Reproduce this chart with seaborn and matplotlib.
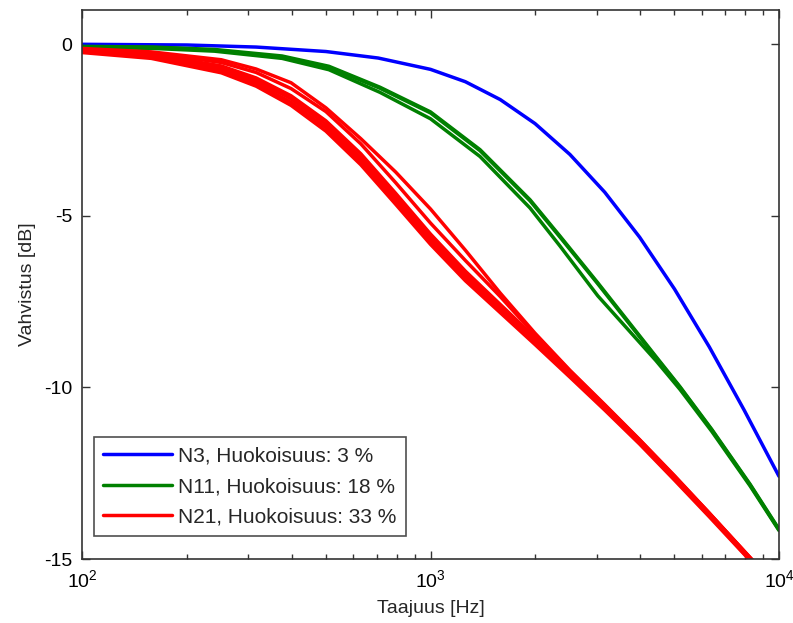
import matplotlib
matplotlib.use("Agg")
import matplotlib.pyplot as plt
import numpy as np
import pandas as pd
import seaborn as sns
from matplotlib.lines import Line2D
from matplotlib.ticker import LogLocator, NullFormatter

# ---- data ----
labels = ["N3, Huokoisuus: 3 %", "N11, Huokoisuus: 18 %", "N21, Huokoisuus: 33 %"]
colors = ["#0000ff", "#008000", "#ff0000"]

blue_f = [100, 200, 316, 501, 708, 1000, 1259, 1585, 1995, 2512, 3162, 3981, 5012, 6310, 7943, 10000]
blue_db = [0.0, -0.02, -0.08, -0.21, -0.40, -0.73, -1.09, -1.61, -2.31, -3.21, -4.31, -5.62, -7.13, -8.82, -10.66, -12.59]

green_f = [100, 160, 240, 375, 511, 716, 1000, 1387, 1930, 2353, 3020, 4436, 5200, 6412, 8260, 10000]
green_u1 = [-0.06, -0.08, -0.15, -0.34, -0.64, -1.25, -1.97, -3.07, -4.53, -5.59, -6.95, -9.10, -9.98, -11.22, -12.82, -14.13]
green_u2 = [-0.07, -0.09, -0.17, -0.37, -0.67, -1.28, -2.00, -3.10, -4.56, -5.62, -6.98, -9.13, -10.00, -11.24, -12.84, -14.15]
green_l = [-0.09, -0.12, -0.20, -0.41, -0.74, -1.40, -2.17, -3.27, -4.77, -5.88, -7.33, -9.22, -10.06, -11.28, -12.87, -14.17]

red_f = [100, 158, 251, 316, 398, 501, 631, 794, 1000, 1259, 1585, 1995, 2512, 3162, 3981, 5012, 6310, 7943, 10000]
red_up = [-0.12, -0.22, -0.45, -0.72, -1.12, -1.85, -2.75, -3.72, -4.80, -6.00, -7.25, -8.42, -9.50, -10.50, -11.52, -12.57, -13.66, -14.77, -15.88]
red_e = [-0.15, -0.25, -0.53, -0.82, -1.29, -1.96, -2.90, -4.03, -5.21, -6.30, -7.35, -8.47, -9.52, -10.52, -11.53, -12.59, -13.67, -14.77, -15.87]
red_a = [-0.16, -0.29, -0.63, -0.98, -1.50, -2.23, -3.19, -4.34, -5.53, -6.61, -7.58, -8.55, -9.54, -10.54, -11.55, -12.60, -13.67, -14.78, -15.88]
red_b = [-0.19, -0.33, -0.70, -1.06, -1.59, -2.33, -3.30, -4.45, -5.63, -6.70, -7.66, -8.62, -9.60, -10.58, -11.58, -12.63, -13.70, -14.80, -15.90]
red_c = [-0.21, -0.37, -0.76, -1.14, -1.69, -2.43, -3.40, -4.55, -5.73, -6.80, -7.74, -8.68, -9.64, -10.62, -11.62, -12.67, -13.74, -14.84, -15.94]
red_d = [-0.24, -0.41, -0.83, -1.22, -1.78, -2.53, -3.51, -4.66, -5.83, -6.89, -7.82, -8.75, -9.70, -10.66, -11.65, -12.70, -13.77, -14.86, -15.96]

y_ticks = [0, -5, -10, -15]
x_label = "Taajuus [Hz]"
y_label = "Vahvistus [dB]"

# ---- tidy table ----
series = [
    ("b1", labels[0], blue_f, blue_db),
    ("g1", labels[1], green_f, green_u1),
    ("g2", labels[1], green_f, green_u2),
    ("g3", labels[1], green_f, green_l),
    ("r1", labels[2], red_f, red_up),
    ("r2", labels[2], red_f, red_e),
    ("r3", labels[2], red_f, red_a),
    ("r4", labels[2], red_f, red_b),
    ("r5", labels[2], red_f, red_c),
    ("r6", labels[2], red_f, red_d),
]
rows = []
for uid, grp, fs, ds in series:
    for f, d in zip(fs, ds):
        rows.append({"line": uid, "group": grp, "f": f, "db": d})
df = pd.DataFrame(rows)

sns.set_theme(style="white")
plt.rcParams["font.family"] = ["Liberation Sans", "DejaVu Sans"]
plt.rcParams["mathtext.default"] = "regular"
FS = 14

fig = plt.figure(figsize=(7.93, 6.23), dpi=100)
ax = fig.add_axes([82 / 793, 1 - 559 / 623, 697 / 793, 549 / 623])

sns.lineplot(data=df, x="f", y="db", hue="group", hue_order=labels,
             units="line", estimator=None, sort=False,
             palette=dict(zip(labels, colors)), linewidth=2.5,
             legend=False, ax=ax)

ax.set_xscale("log")
ax.set_xlim(100, 10000)
ax.set_ylim(-15, 1)
ax.set_yticks(y_ticks)
ax.set_yticklabels([str(t) for t in y_ticks])
ax.xaxis.set_major_locator(LogLocator(base=10, numticks=10))
ax.xaxis.set_minor_locator(LogLocator(base=10, subs=np.arange(2, 10), numticks=100))
ax.xaxis.set_minor_formatter(NullFormatter())

ax.tick_params(which="both", direction="in", top=True, right=True,
               bottom=True, left=True, colors="#333333", labelcolor="black",
               labelsize=FS)
ax.tick_params(which="major", length=6, width=1.0)
ax.tick_params(axis="x", which="major", pad=7)
ax.tick_params(axis="y", which="major", pad=7)
ax.tick_params(which="minor", length=3.5, width=1.0)
for s in ax.spines.values():
    s.set_color("#333333")
    s.set_linewidth(1.2)

ax.set_xlabel(x_label, fontsize=FS, labelpad=7)
ax.set_ylabel(y_label, fontsize=FS, labelpad=6)

handles = [Line2D([], [], color=c, linewidth=2.5) for c in colors]
leg = ax.legend(handles, labels, loc="lower left",
                bbox_to_anchor=(12 / 697, 23 / 549), borderaxespad=0,
                fontsize=15, frameon=True, fancybox=False,
                handlelength=3.3, handletextpad=0.3, labelspacing=0.55,
                borderpad=0.45)
leg.get_frame().set_edgecolor("#222222")
leg.get_frame().set_linewidth(1.2)

fig.savefig("out.png", dpi=100)
